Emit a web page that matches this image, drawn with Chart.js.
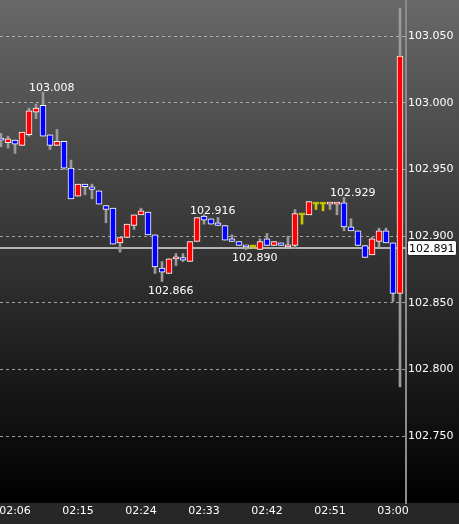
<!DOCTYPE html>
<html>
<head>
<meta charset="utf-8">
<script src="https://cdn.jsdelivr.net/npm/chart.js@4.4.1/dist/chart.umd.min.js"></script>
<style>
    html, body { margin: 0; padding: 0; background: #000; }
    canvas { display: block; }
</style>
</head>
<body>
<canvas id="chart" width="459" height="524"></canvas>
<script>
// one-minute candles, 02:04 .. 03:01
const times = [
    '02:04','02:05','02:06','02:07','02:08','02:09','02:10','02:11','02:12','02:13',
    '02:14','02:15','02:16','02:17','02:18','02:19','02:20','02:21','02:22','02:23',
    '02:24','02:25','02:26','02:27','02:28','02:29','02:30','02:31','02:32','02:33',
    '02:34','02:35','02:36','02:37','02:38','02:39','02:40','02:41','02:42','02:43',
    '02:44','02:45','02:46','02:47','02:48','02:49','02:50','02:51','02:52','02:53',
    '02:54','02:55','02:56','02:57','02:58','02:59','03:00','03:01'
];
const openData = [
    102.973, 102.970, 102.972, 102.968, 102.976, 102.993, 102.998, 102.976, 102.968, 102.971,
    102.951, 102.930, 102.939, 102.937, 102.934, 102.923, 102.921, 102.895, 102.899, 102.908,
    102.916, 102.918, 102.901, 102.876, 102.872, 102.883, 102.884, 102.881, 102.896, 102.915,
    102.913, 102.910, 102.908, 102.898, 102.896, 102.893, 102.892, 102.890, 102.898, 102.893,
    102.895, 102.892, 102.893, 102.916, 102.916, 102.924, 102.924, 102.924, 102.924, 102.925,
    102.907, 102.904, 102.893, 102.886, 102.896, 102.904, 102.895, 102.857
];
const highData = [
    102.977, 102.975, 102.972, 102.978, 102.996, 102.999, 103.008, 102.976, 102.980, 102.971,
    102.957, 102.939, 102.939, 102.939, 102.934, 102.923, 102.921, 102.899, 102.909, 102.916,
    102.921, 102.918, 102.901, 102.881, 102.883, 102.887, 102.887, 102.896, 102.914, 102.916,
    102.913, 102.914, 102.908, 102.901, 102.896, 102.893, 102.893, 102.898, 102.902, 102.896,
    102.895, 102.900, 102.920, 102.917, 102.926, 102.925, 102.925, 102.925, 102.925, 102.929,
    102.913, 102.904, 102.893, 102.899, 102.906, 102.906, 102.895, 103.071
];
const lowData = [
    102.967, 102.966, 102.962, 102.968, 102.975, 102.988, 102.975, 102.965, 102.968, 102.950,
    102.928, 102.930, 102.931, 102.928, 102.924, 102.910, 102.894, 102.888, 102.899, 102.905,
    102.916, 102.901, 102.872, 102.866, 102.872, 102.878, 102.881, 102.881, 102.896, 102.909,
    102.909, 102.908, 102.897, 102.896, 102.893, 102.890, 102.891, 102.890, 102.893, 102.893,
    102.893, 102.892, 102.891, 102.909, 102.916, 102.920, 102.919, 102.920, 102.916, 102.904,
    102.904, 102.893, 102.884, 102.886, 102.892, 102.895, 102.851, 102.787
];
const closeData = [
    102.972, 102.973, 102.969, 102.978, 102.994, 102.996, 102.975, 102.968, 102.971, 102.951,
    102.928, 102.939, 102.937, 102.935, 102.924, 102.920, 102.894, 102.899, 102.909, 102.916,
    102.919, 102.901, 102.877, 102.873, 102.883, 102.884, 102.882, 102.896, 102.914, 102.912,
    102.909, 102.908, 102.897, 102.896, 102.893, 102.892, 102.892, 102.896, 102.893, 102.896,
    102.893, 102.893, 102.917, 102.916, 102.926, 102.924, 102.924, 102.925, 102.925, 102.907,
    102.904, 102.893, 102.884, 102.898, 102.904, 102.895, 102.857, 103.035
];
const xTickLabels = ['02:06', '02:15', '02:24', '02:33', '02:42', '02:51', '03:00'];
const yTickValues = [102.75, 102.80, 102.85, 102.90, 102.95, 103.00, 103.05];
const currentPrice = 102.891;
// candles carrying a high / low marker
const highMarks = [6, 29, 49];
const lowMarks = [23, 35];

const font = {family: 'DejaVu Sans', size: 11};
const fontCss = '11px "DejaVu Sans"';

let bodyColors = openData.map((o, i) => closeData[i] > o ? '#ff0000' : (closeData[i] < o ? '#0000ff' : '#c8c800'));
let bodyBorders = openData.map((o, i) => closeData[i] === o ? '#c8c800' : '#ffffff');
let wickColors = openData.map((o, i) => closeData[i] === o ? '#c8c800' : '#9a9a9a');

const background = {
    id: 'background',
    beforeDraw(chart) {
        const {ctx, width, height, chartArea: {bottom}} = chart;
        ctx.save();
        let g = ctx.createLinearGradient(0, 0, 0, bottom);
        g.addColorStop(0, '#686868');
        g.addColorStop(1, '#000000');
        ctx.fillStyle = g;
        ctx.fillRect(0, 0, width, bottom);
        ctx.fillStyle = '#272727';
        ctx.fillRect(0, bottom, width, height - bottom);
        ctx.restore();
    }
};

const priceLine = {
    id: 'priceLine',
    beforeDatasetsDraw(chart) {
        const {ctx, chartArea: {left, right}, scales: {y}} = chart;
        let py = Math.round(y.getPixelForValue(currentPrice));
        ctx.save();
        ctx.strokeStyle = '#b4b4b4';
        ctx.lineWidth = 2;
        ctx.beginPath();
        ctx.moveTo(left, py);
        ctx.lineTo(right, py);
        ctx.stroke();
        ctx.restore();
    },
    afterDraw(chart) {
        const {ctx, scales: {y}} = chart;
        let py = Math.round(y.getPixelForValue(currentPrice));
        let bx = y.left + 1;
        ctx.save();
        ctx.fillStyle = '#ffffff';
        ctx.strokeStyle = '#222222';
        ctx.lineWidth = 1;
        ctx.beginPath();
        ctx.roundRect(bx + 0.5, py - 7.5, 49, 15, 2);
        ctx.fill();
        ctx.stroke();
        ctx.fillStyle = '#000000';
        ctx.font = fontCss;
        ctx.textBaseline = 'middle';
        ctx.textAlign = 'left';
        ctx.fillText(currentPrice.toFixed(3), bx + 2, py + 1);
        ctx.restore();
    }
};

const extremeLabels = {
    id: 'extremeLabels',
    afterDatasetsDraw(chart) {
        const {ctx, scales: {x, y}} = chart;
        ctx.save();
        ctx.fillStyle = '#ffffff';
        ctx.font = fontCss;
        ctx.textAlign = 'left';
        ctx.textBaseline = 'alphabetic';
        highMarks.forEach((i) => {
            ctx.fillText(highData[i].toFixed(3), x.getPixelForValue(i) - 14, y.getPixelForValue(highData[i]) - 1);
        });
        lowMarks.forEach((i) => {
            ctx.fillText(lowData[i].toFixed(3), x.getPixelForValue(i) - 14, y.getPixelForValue(lowData[i]) + 12);
        });
        ctx.restore();
    }
};

new Chart(document.getElementById('chart'), {
    type: 'bar',
    data: {
        datasets: [
            {
                label: 'body',
                data: times.map((t, i) => ({x: i, y: [openData[i], closeData[i]]})),
                backgroundColor: bodyColors,
                borderColor: bodyBorders,
                borderWidth: 1,
                borderSkipped: false,
                barThickness: 6,
                minBarLength: 2,
                grouped: false,
            },
            {
                label: 'wick',
                data: times.map((t, i) => ({x: i, y: [lowData[i], highData[i]]})),
                backgroundColor: wickColors,
                borderWidth: 0,
                barThickness: 2,
                grouped: false,
            },
        ],
    },
    options: {
        responsive: false,
        animation: false,
        devicePixelRatio: 1,
        layout: {padding: 0},
        scales: {
            x: {
                type: 'linear',
                offset: false,
                min: -1 / 7,
                max: 58 - 1 / 7,
                bounds: 'data',
                grid: {display: false, drawTicks: false, offset: false},
                border: {display: false},
                ticks: {
                    color: '#ffffff',
                    font: font,
                    padding: 2,
                    maxRotation: 0,
                    autoSkip: false,
                    callback: (v) => times[v],
                },
                afterBuildTicks: (s) => {
                    s.ticks = xTickLabels.map((t) => ({value: times.indexOf(t)}));
                },
                afterFit: (s) => {
                    s.height = 21;
                    s.paddingLeft = 0;
                    s.paddingRight = 0;
                },
            },
            y: {
                type: 'linear',
                position: 'right',
                min: 102.7,
                max: 103.077,
                bounds: 'data',
                grid: {
                    color: 'rgba(200, 200, 200, 0.75)',
                    lineWidth: 1,
                    drawTicks: false,
                },
                border: {display: true, color: '#8c8c8c', width: 2, dash: [3, 3]},
                ticks: {
                    color: '#ffffff',
                    font: font,
                    padding: 2,
                    callback: (v) => Number(v).toFixed(3),
                },
                afterBuildTicks: (s) => {
                    s.ticks = yTickValues.map((v) => ({value: v}));
                },
                afterFit: (s) => {
                    s.width = 53;
                    s.paddingTop = 0;
                    s.paddingBottom = 0;
                },
            },
        },
        plugins: {
            legend: {display: false},
            tooltip: {enabled: false},
        },
    },
    plugins: [background, priceLine, extremeLabels],
});
</script>
</body>
</html>
